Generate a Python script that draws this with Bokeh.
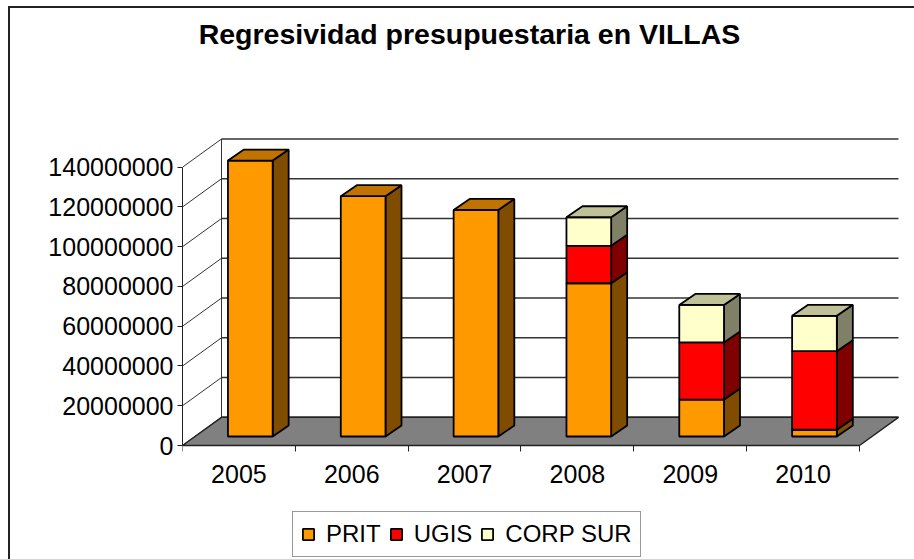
from bokeh.plotting import figure
from bokeh.models import (ColumnDataSource, FixedTicker, Label, Legend, LegendItem, Range1d)
from bokeh.embed import file_html
from bokeh.resources import INLINE

years = ["2005", "2006", "2007", "2008", "2009", "2010"]
prit = [138.8e6, 120.9e6, 114.0e6, 77.1e6, 18.6e6, 3.4e6]
ugis = [0, 0, 0, 18.8e6, 28.7e6, 39.5e6]
corp = [0, 0, 0, 14.4e6, 18.9e6, 17.8e6]
y_ticks = [0, 20000000, 40000000, 60000000, 80000000, 100000000, 120000000, 140000000]
title_text = "Regresividad presupuestaria en VILLAS"

series = [("PRIT", prit, "#FF9900", "#804D00", "#C07300"),
          ("UGIS", ugis, "#FF0000", "#800000", "#C00000"),
          ("CORP SUR", corp, "#FFFFCC", "#808066", "#C0C099")]

# layout of the pseudo-3D box (px)
CAT_PX = 112.83
PX_PER_VAL = 278.3 / 140e6
WALL_DX = 39 / CAT_PX
WALL_DY = 28.2 / PX_PER_VAL
BAR_W = 44.7 / CAT_PX
BAR_DX = 16 / CAT_PX
BAR_DY = 11 / PX_PER_VAL
BAR_OFF_X = 11.4 / CAT_PX
BAR_OFF_Y = 9 / PX_PER_VAL
BAR_LW = 1.8
FRAME_W, FRAME_H = 732, 551
BELOW_ZERO_PX = 114

p = figure(width=904, height=551, frame_width=FRAME_W, frame_height=FRAME_H,
           output_backend="svg", toolbar_location=None,
           x_range=Range1d(0, FRAME_W / CAT_PX),
           y_range=Range1d(-BELOW_ZERO_PX / PX_PER_VAL, (FRAME_H - BELOW_ZERO_PX) / PX_PER_VAL),
           min_border_left=172, min_border_top=0, min_border_bottom=0, min_border_right=0,
           background_fill_color="white", border_fill_color="white")
p.styles = {"margin-left": "8px", "margin-top": "6px",
            "border-left": "2px solid #222222", "border-top": "2px solid #222222"}
p.outline_line_color = None
p.grid.visible = False

n = len(years)
# wall grid
back_x0, back_x1 = WALL_DX, n + WALL_DX
p.segment([back_x0] * len(y_ticks), [t + WALL_DY for t in y_ticks],
          [back_x1] * len(y_ticks), [t + WALL_DY for t in y_ticks], line_color="#333333", line_width=1.5)
p.segment([0] * len(y_ticks), y_ticks, [back_x0] * len(y_ticks), [t + WALL_DY for t in y_ticks],
          line_color="#333333", line_width=1)
p.segment([back_x0], [WALL_DY], [back_x0], [y_ticks[-1] + WALL_DY], line_color="#333333", line_width=1)
# floor
p.patch([0, n, back_x1, back_x0], [0, 0, WALL_DY, WALL_DY], fill_color="#808080",
        line_color="#222222", line_width=1.5)

legend_items = []
bottoms = [BAR_OFF_Y] * n
for name, vals, front, side, top in series:
    left, right, bot, tp = [], [], [], []
    for i, v in enumerate(vals):
        if v > 0:
            left.append(i + 0.5 - BAR_W / 2 + BAR_OFF_X)
            right.append(left[-1] + BAR_W)
            bot.append(bottoms[i])
            tp.append(bottoms[i] + v)
    # side faces
    p.patches([[r, r + BAR_DX, r + BAR_DX, r] for r in right],
              [[b, b + BAR_DY, t + BAR_DY, t] for b, t in zip(bot, tp)],
              fill_color=side, line_color="black", line_width=BAR_LW)
    src = ColumnDataSource(dict(left=left, right=right, bottom=bot, top=tp))
    r = p.quad(left="left", right="right", bottom="bottom", top="top", source=src,
               fill_color=front, line_color="black", line_width=BAR_LW)
    legend_items.append(LegendItem(label=name, renderers=[r]))
    bottoms = [b + v for b, v in zip(bottoms, vals)]

# top faces on each stack
last_color = {}
for i in range(n):
    for name, vals, front, side, top in series:
        if vals[i] > 0:
            last_color[i] = top
lefts = [i + 0.5 - BAR_W / 2 + BAR_OFF_X for i in range(n)]
p.patches([[l, l + BAR_W, l + BAR_W + BAR_DX, l + BAR_DX] for l in lefts],
          [[t, t, t + BAR_DY, t + BAR_DY] for t in bottoms],
          fill_color=[last_color[i] for i in range(n)], line_color="black", line_width=BAR_LW)

# axes
ya = p.yaxis[0]
ya.ticker = FixedTicker(ticks=y_ticks)
ya.major_label_overrides = {t: str(t) for t in y_ticks}
ya.major_label_text_font = "Liberation Sans"
ya.major_label_text_font_size = "25px"
ya.major_label_text_color = "black"
ya.major_label_standoff = 4
ya.major_tick_out = 5
ya.major_tick_in = 0
ya.minor_tick_line_color = None
ya.axis_line_color = "#222222"
ya.major_tick_line_color = "#222222"
ya.bounds = (0, y_ticks[-1])

xa = p.xaxis[0]
xa.fixed_location = 0
xa.ticker = FixedTicker(ticks=[i + 0.5 for i in range(n)], minor_ticks=list(range(n + 1)))
xa.major_label_overrides = {i + 0.5: y for i, y in enumerate(years)}
xa.major_label_text_font = "Liberation Sans"
xa.major_label_text_font_size = "25px"
xa.major_label_text_color = "black"
xa.major_label_standoff = 13
xa.major_tick_out = 0
xa.major_tick_in = 0
xa.minor_tick_out = 6
xa.minor_tick_in = 0
xa.minor_tick_line_color = "#222222"
xa.axis_line_color = "#222222"
xa.bounds = (0, n)

legend = Legend(items=legend_items, orientation="horizontal", location=(110, 2),
                label_text_font="Liberation Sans", label_text_font_size="24px", label_text_color="black",
                glyph_width=14, glyph_height=14, label_standoff=11, spacing=8, padding=8, margin=0,
                border_line_color="#333333", border_line_width=1.5, background_fill_color="white")
p.add_layout(legend, "center")

p.add_layout(Label(x=287, y=526, x_units="screen", y_units="screen", text=title_text,
                   text_font="Liberation Sans", text_font_style="bold", text_font_size="28.5px",
                   text_align="center", text_baseline="middle", text_color="black"))

open("out.html", "w").write(file_html(p, INLINE))
